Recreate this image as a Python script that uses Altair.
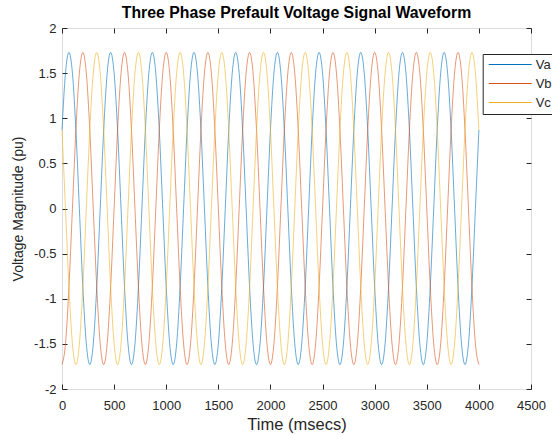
import altair as alt
import pandas as pd

# ---- values ----
series_names = ["Va", "Vb", "Vc"]
series_colors = ["#0072BD", "#D95319", "#EDB120"]
period_ms = 400          # one cycle spans 400 msecs
n_cycles = 10            # 10 full cycles from 0 to 4000 msecs
# one cycle sampled every 30 degrees (12 samples), read from the picture
va_cycle = [0.87, 1.50, 1.73, 1.50, 0.87, 0.00, -0.87, -1.50, -1.73, -1.50, -0.87, 0.00]
vb_cycle = [-1.73, -1.50, -0.87, 0.00, 0.87, 1.50, 1.73, 1.50, 0.87, 0.00, -0.87, -1.50]
vc_cycle = [0.87, 0.00, -0.87, -1.50, -1.73, -1.50, -0.87, 0.00, 0.87, 1.50, 1.73, 1.50]
x_ticks = [0, 500, 1000, 1500, 2000, 2500, 3000, 3500, 4000, 4500]
y_ticks = [-2, -1.5, -1, -0.5, 0, 0.5, 1, 1.5, 2]

rows = []
for name, cyc in zip(series_names, [va_cycle, vb_cycle, vc_cycle]):
    full = cyc * n_cycles + [cyc[0]]
    step = period_ms / len(cyc)
    for i, v in enumerate(full):
        rows.append({"t": i * step, "v": v, "phase": name})
df = pd.DataFrame(rows)

FONT = "Liberation Sans"
AX = "#262626"

xscale = alt.Scale(domain=[0, 4500], nice=False, zero=False)
yscale = alt.Scale(domain=[-2, 2], nice=False, zero=False)

xaxis = alt.Axis(domain=False, grid=False, tickSize=5, offset=-5, tickColor=AX,
                 labelColor=AX, labelFont=FONT, labelFontSize=13, labelPadding=10,
                 labelFlush=False, labelBound=False,
                 labelExpr="'' + datum.value", values=x_ticks,
                 title="Time (msecs)", titleFont=FONT, titleFontSize=16.5,
                 titleFontWeight="normal", titleColor=AX, titlePadding=4)
yaxis = alt.Axis(domain=False, grid=False, tickSize=5, offset=-5, tickColor=AX,
                 labelColor=AX, labelFont=FONT, labelFontSize=13, labelPadding=6,
                 labelFlush=False, labelBound=False,
                 labelExpr="'' + datum.value", values=y_ticks,
                 title="Voltage Magnitude (pu)", titleFont=FONT, titleFontSize=14,
                 titleFontWeight="normal", titleColor=AX, titlePadding=8)
xaxis_top = alt.Axis(orient="top", domain=False, grid=False, tickSize=5, offset=-5,
                     tickColor=AX, labels=False, values=x_ticks, title=None)
yaxis_right = alt.Axis(orient="right", domain=False, grid=False, tickSize=5, offset=-5,
                       tickColor=AX, labels=False, values=y_ticks, title=None)

lines = alt.Chart(df).mark_line(strokeWidth=0.6, interpolate="monotone").encode(
    x=alt.X("t:Q", scale=xscale, axis=xaxis),
    y=alt.Y("v:Q", scale=yscale, axis=yaxis),
    color=alt.Color("phase:N",
                    scale=alt.Scale(domain=series_names, range=series_colors),
                    legend=alt.Legend(title=None, orient="none", legendX=420.7, legendY=26,
                                      symbolType="M-4.3,0H4.3", symbolSize=100,
                                      symbolStrokeWidth=1.2, symbolOffset=17,
                                      labelOffset=19, labelFont=FONT, labelFontSize=13,
                                      labelColor=AX, rowPadding=5, padding=4,
                                      strokeColor=AX, fillColor="white")),
    detail="phase:N",
)

mirror = alt.Chart(df).mark_line(opacity=0).encode(
    x=alt.X("t:Q", scale=xscale, axis=xaxis_top),
    y=alt.Y("v:Q", scale=yscale, axis=yaxis_right),
)

chart = alt.layer(lines, mirror).resolve_axis(x="independent", y="independent").properties(
    width=469, height=361,
    title=alt.TitleParams("Three Phase Prefault Voltage Signal Waveform", font=FONT,
                          fontSize=15.8, fontWeight="bold", color="black",
                          anchor="middle", offset=0),
    autosize=alt.AutoSizeParams(type="none"),
    padding={"left": 62, "top": 28, "right": 21, "bottom": 46},
).configure_view(stroke=AX, strokeWidth=1).configure(background="white")

chart.save("out.html", embed_options={"renderer": "svg", "actions": False})
